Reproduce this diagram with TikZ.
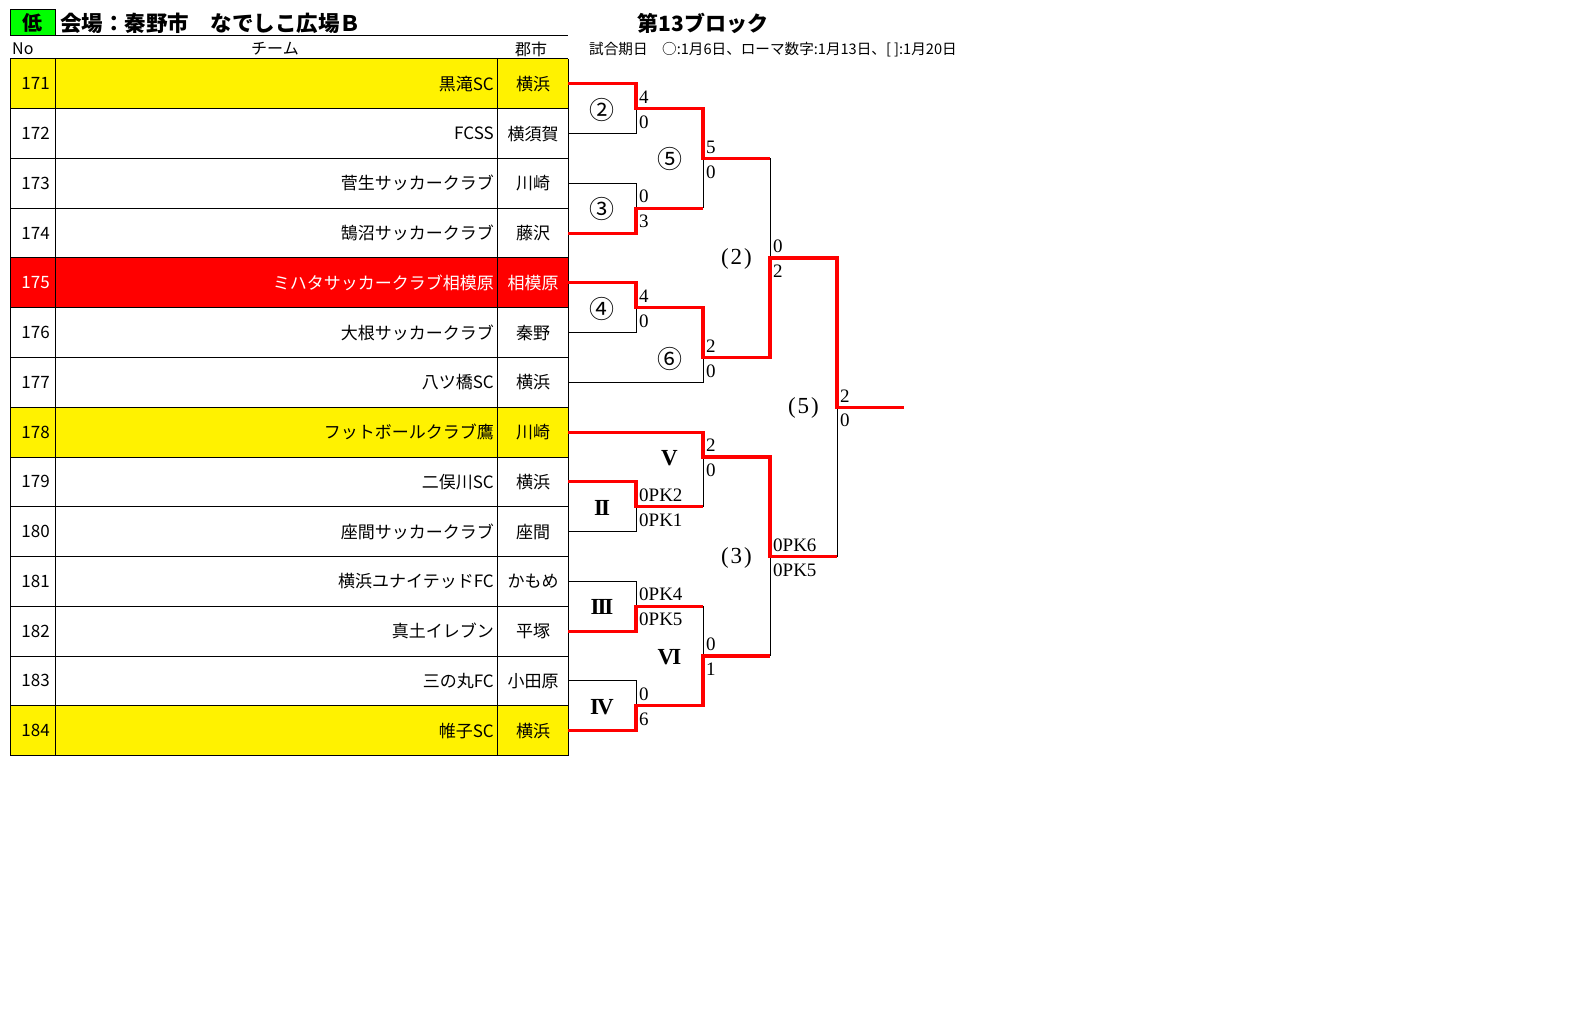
\documentclass[tikz,border=0pt]{standalone}
\usepackage{fontspec}
\setmainfont{Liberation Serif}
\newfontfamily\jpf{Noto Sans CJK JP}
\newfontfamily\srf{Liberation Serif}
\newcommand\rowY[1]{59+49.75*#1}
\newcommand\ctrY[1]{83.875+49.75*#1}
\tikzset{
  cell/.style={font=\jpf\fontsize{17}{20}\selectfont, inner sep=0pt},
  grid/.style={line width=1pt, black},
  lose/.style={line width=1pt, black},
  win/.style={line width=3.2pt, red, line join=miter},
  score/.style={font=\srf\fontsize{19}{21}\selectfont, inner sep=0pt, anchor=west},
  circlbl/.style={font=\jpf\fontsize{25}{28}\selectfont, inner sep=0pt},
  romlbl/.style={font=\srf\bfseries\fontsize{23}{26}\selectfont, inner sep=0pt},
  parlbl/.style={font=\srf\fontsize{23}{26}\selectfont, inner sep=0pt},
}
\begin{document}
\begin{tikzpicture}[x=1pt,y=-1pt]
\useasboundingbox (0,0) rectangle (1576,1016);
\fill[white] (0,0) rectangle (1576,1016);

% heading
\node[draw, line width=1pt, fill=green, minimum width=45pt, minimum height=26pt, inner sep=0pt,
      font=\jpf\bfseries\fontsize{20}{22}\selectfont] (low) at (32.5,23) {低};
\node[anchor=west, inner sep=0pt, font=\jpf\bfseries\fontsize{21.5}{24}\selectfont] (venue) at (60,23) {会場：秦野市　なでしこ広場Ｂ};
\draw[grid] (10,36) -- (568,36);
\node[anchor=west, inner sep=0pt, font=\jpf\fontsize{16}{18}\selectfont] (hno) at (12,49) {No};
\node[inner sep=0pt, font=\jpf\fontsize{16}{18}\selectfont] (hteam) at (275,49) {チーム};
\node[inner sep=0pt, font=\jpf\fontsize{16}{18}\selectfont] (hcity) at (531,49) {郡市};
\node[inner sep=0pt, font=\jpf\bfseries\fontsize{21}{24}\selectfont] (block) at (703,23) {第13ブロック};
\node[anchor=west, inner sep=0pt, font=\jpf\fontsize{14.6}{16}\selectfont] (note) at (589,50) {試合期日　○:1月6日、ローマ数字:1月13日、[ ]:1月20日};

% table rows
\foreach \num/\team/\city/\bg/\fg [count=\i from 0] in {
  171/黒滝SC/横浜/yellow/black,
  172/FCSS/横須賀/white/black,
  173/菅生サッカークラブ/川崎/white/black,
  174/鵠沼サッカークラブ/藤沢/white/black,
  175/ミハタサッカークラブ相模原/相模原/red/white,
  176/大根サッカークラブ/秦野/white/black,
  177/八ツ橋SC/横浜/white/black,
  178/フットボールクラブ鷹/川崎/yellow/black,
  179/二俣川SC/横浜/white/black,
  180/座間サッカークラブ/座間/white/black,
  181/横浜ユナイテッドFC/かもめ/white/black,
  182/真土イレブン/平塚/white/black,
  183/三の丸FC/小田原/white/black,
  184/帷子SC/横浜/yellow/black}{
  \fill[\bg] (10,{\rowY{\i}}) rectangle (568,{\rowY{\i}+49.75});
  \node[cell, anchor=east, text=\fg] (no\num) at (50,{\ctrY{\i}}) {\num};
  \node[cell, anchor=east, text=\fg] (team\num) at (494,{\ctrY{\i}}) {\team};
  \node[cell, text=\fg] (city\num) at (533,{\ctrY{\i}}) {\city};
  \coordinate (e\i) at (568,{\ctrY{\i}});
}
\foreach \k in {0,...,14}{\draw[grid] (10,{\rowY{\k}}) -- (568,{\rowY{\k}});}
\foreach \xx in {10,55.5,497.5,568}{\draw[grid] (\xx,59) -- (\xx,755.5);}

% bracket points
\coordinate (m2) at (636,{\rowY{1}});
\coordinate (m3) at (636,{\rowY{3}});
\coordinate (m4) at (636,{\rowY{5}});
\coordinate (m5) at (703,{\rowY{2}});
\coordinate (m6) at (703,{\rowY{6}});
\coordinate (p2) at (770,{\rowY{4}});
\coordinate (mII) at (636,{\rowY{9}});
\coordinate (mV) at (703,{\rowY{8}});
\coordinate (mIII) at (636,{\rowY{11}});
\coordinate (mIV) at (636,{\rowY{13}});
\coordinate (mVI) at (703,{\rowY{12}});
\coordinate (p3) at (770,{\rowY{10}});
\coordinate (p5) at (837,{\rowY{7}});
\coordinate (fin) at (904,{\rowY{7}});

% losing lines
\draw[lose] (e1) -| (m2);
\draw[lose] (e2) -| (m3);
\draw[lose] (m5) -- (m5 |- m3);
\draw[lose] (e5) -| (m4);
\draw[lose] (e6) -| (m6);
\draw[lose] (p2) -- (p2 |- m5);
\draw[lose] (e9) -| (mII);
\draw[lose] (mV) -- (mV |- mII);
\draw[lose] (e10) -| (mIII);
\draw[lose] (e12) -| (mIV);
\draw[lose] (mVI) -- (mVI |- mIII);
\draw[lose] (p3) -- (p3 |- mVI);
\draw[lose] (p5) -- (p5 |- p3);

% winning lines
\draw[win] (e0) -| (m2) -| (m5) -- (m5 -| p2);
\draw[win] (e3) -| (m3) -- (m3 -| m5);
\draw[win] (e4) -| (m4) -| (m6) -| (p2) -| (p5) -- (fin);
\draw[win] (e7) -| (mV) -| (p3) -- (p3 -| p5);
\draw[win] (e8) -| (mII) -- (mII -| mV);
\draw[win] (e11) -| (mIII) -- (mIII -| mVI);
\draw[win] (e13) -| (mIV) -| (mVI) -- (mVI -| p3);

% scores
\foreach \pt/\up/\dn in {m2/4/0, m3/0/3, m5/5/0, m4/4/0, m6/2/0, p2/0/2,
  mII/0PK2/0PK1, mV/2/0, mIII/0PK4/0PK5, mIV/0/6, mVI/0/1, p3/0PK6/0PK5, p5/2/0}{
  \node[score] (su-\pt) at ([xshift=3pt,yshift=11.5pt]\pt) {\up};
  \node[score] (sd-\pt) at ([xshift=3pt,yshift=-13.5pt]\pt) {\dn};
}

% match labels
\node[circlbl] (l2) at (602,{\rowY{1}+1}) {②};
\node[circlbl] (l3) at (602,{\rowY{3}+1}) {③};
\node[circlbl] (l4) at (602,{\rowY{5}+1}) {④};
\node[circlbl] (l5) at (669.5,{\rowY{2}+1}) {⑤};
\node[circlbl] (l6) at (669.5,{\rowY{6}+1}) {⑥};
\node[parlbl] (lp2) at (736.5,{\rowY{4}+1}) {(\hspace{2pt}2\hspace{2pt})};
\node[romlbl] (lII) at (602,{\rowY{9}+1}) {I\kern-2ptI};
\node[romlbl] (lV) at (669.5,{\rowY{8}+1}) {V};
\node[romlbl] (lIII) at (602,{\rowY{11}+1}) {I\kern-2ptI\kern-2ptI};
\node[romlbl] (lIV) at (602,{\rowY{13}+1}) {I\kern-2ptV};
\node[romlbl] (lVI) at (669.5,{\rowY{12}+1}) {V\kern-2ptI};
\node[parlbl] (lp3) at (736.5,{\rowY{10}+1}) {(\hspace{2pt}3\hspace{2pt})};
\node[parlbl] (lp5) at (803.5,{\rowY{7}+1}) {(\hspace{2pt}5\hspace{2pt})};
\end{tikzpicture}
\end{document}
